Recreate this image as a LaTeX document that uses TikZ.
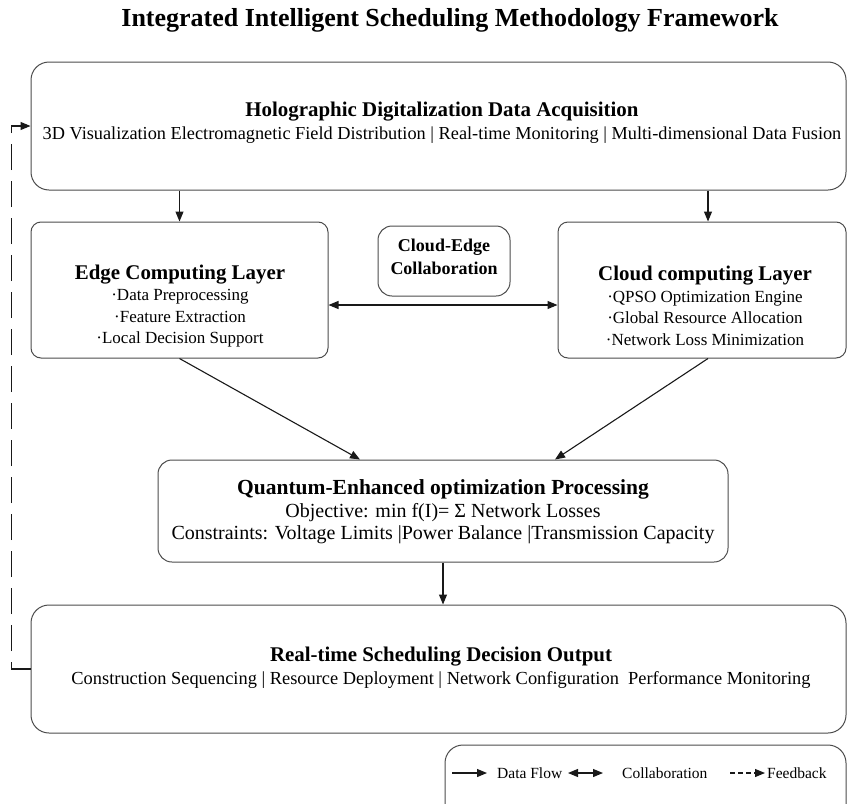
\documentclass[tikz,border=0pt]{standalone}
\usepackage{fontspec}
\setmainfont{Liberation Serif}
\usetikzlibrary{arrows.meta,calc}
\tikzset{
  box/.style={draw=black!70, line width=1pt, rounded corners=#1, inner sep=0pt},
  box/.default=18pt,
  flow/.style={draw=black!90, line width=1.1pt, -{Triangle[length=10pt,width=8pt]}},
  collab/.style={draw=black!90, line width=1.1pt, {Triangle[length=10pt,width=8pt]}-{Triangle[length=10pt,width=8pt]}},
  fback/.style={draw=black!90, line width=1.1pt, dash pattern=on 26pt off 11pt, -{Triangle[length=10pt,width=8pt]}},
  bodytxt/.style={align=center, inner sep=0pt},
  legtxt/.style={font=\fontsize{15.5}{18}\selectfont, inner sep=0pt, anchor=west}
}
\newcommand{\bt}[1]{{\bfseries\fontsize{20.9}{25}\selectfont #1}}
\begin{document}
\begin{tikzpicture}[x=1pt,y=-1pt]
\useasboundingbox (0,0) rectangle (848,803);
% title
\node[font=\fontsize{26}{30}\selectfont\bfseries, inner sep=0pt] (title) at (450,20) {Integrated Intelligent Scheduling Methodology Framework};
% boxes
\node[box, minimum width=815pt, minimum height=128pt] (top) at (438.5,126) {};
\node[box=10pt, minimum width=297pt, minimum height=136pt] (edge) at (179.5,290) {};
\node[box=14pt, minimum width=132pt, minimum height=70pt] (ce) at (444,261) {};
\node[box=10pt, minimum width=288pt, minimum height=136pt] (cloud) at (702,290) {};
\node[box=14pt, minimum width=570pt, minimum height=102pt] (q) at (443,511) {};
\node[box, minimum width=815pt, minimum height=128pt] (rt) at (438.5,669) {};
\node[box, minimum width=401pt, minimum height=80pt] (leg) at (645.5,785) {};
% texts
\node[bodytxt, font=\fontsize{18.3}{23}\selectfont] (topt) at (442,123) {\bt{Holographic Digitalization Data Acquisition}\\3D Visualization Electromagnetic Field Distribution | Real-time Monitoring | Multi-dimensional Data Fusion};
\node[bodytxt, font=\fontsize{17}{21.5}\selectfont] (edget) at (180,306) {\bt{Edge Computing Layer}\\·Data Preprocessing\\·Feature Extraction\\·Local Decision Support};
\node[bodytxt, font=\fontsize{18}{23}\selectfont\bfseries] (cet) at (444,257) {Cloud-Edge\\Collaboration};
\node[bodytxt, font=\fontsize{17}{21.5}\selectfont] (cloudt) at (705,306) {\bt{Cloud computing Layer}\\·QPSO Optimization Engine\\·Global Resource Allocation\\·Network Loss Minimization};
\node[bodytxt, font=\fontsize{20}{22.5}\selectfont] (qt) at (443,512) {{\bfseries\fontsize{21.5}{24}\selectfont Quantum-Enhanced optimization Processing}\\Objective: min f(I)= Σ Network Losses\\Constraints: Voltage Limits |Power Balance |Transmission Capacity};
\node[bodytxt, font=\fontsize{18.4}{23}\selectfont] (rtt) at (441,668) {\bt{Real-time Scheduling Decision Output}\\Construction Sequencing | Resource Deployment | Network Configuration\ \ Performance Monitoring};
% connectors
\draw[flow] (edge.north |- top.south) -- (edge.north);
\draw[flow] ([xshift=6pt]cloud.north |- top.south) -- ([xshift=6pt]cloud.north);
\draw[collab] ([yshift=-15pt]edge.east) -- ([yshift=-15pt]cloud.west);
\draw[flow] (edge.south) -- ([xshift=-83pt]q.north);
\draw[flow] ([xshift=6pt]cloud.south) -- ([xshift=112pt]q.north);
\draw[flow] (q.south) -- (q.south |- rt.north);
\draw[fback] (rt.west) -- ++(-19,0) |- (top.west);
% legend
\coordinate (l1a) at (452,773); \coordinate (l1b) at (487,773);
\draw[flow] (l1a) -- (l1b);
\node[legtxt] (lt1) at (497,773) {Data Flow};
\coordinate (l2a) at (568,773); \coordinate (l2b) at (603,773);
\draw[collab] (l2a) -- (l2b);
\node[legtxt] (lt2) at (622,773) {Collaboration};
\coordinate (l3a) at (730,773); \coordinate (l3b) at (765,773);
\draw[draw=black!90, line width=1.1pt, dash pattern=on 5pt off 3pt, -{Triangle[length=10pt,width=8pt]}] (l3a) -- (l3b);
\node[legtxt] (lt3) at (767,773) {Feedback};
\end{tikzpicture}
\end{document}
